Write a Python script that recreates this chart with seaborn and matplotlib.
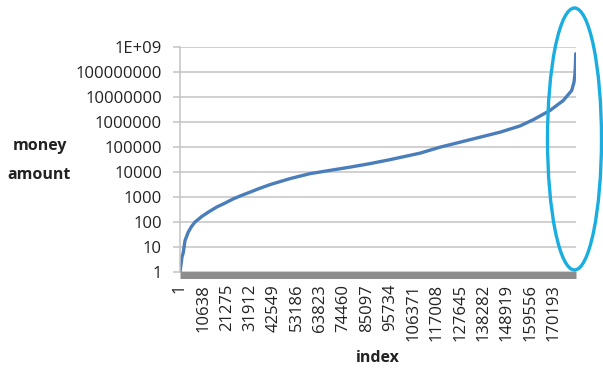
import matplotlib
matplotlib.use("Agg")
import matplotlib.pyplot as plt
from matplotlib.patches import Ellipse
from matplotlib.ticker import FixedLocator, FixedFormatter, NullLocator
from matplotlib.transforms import ScaledTranslation
import seaborn as sns
import pandas as pd

# Sorted money amounts sampled along the record index
index_values = [1, 456, 912, 1504, 2279, 3783, 5333, 6837, 9891, 12899, 16728,
                20511, 24294, 28123, 31906, 35689, 41022, 50138, 59254, 68370,
                77486, 86602, 95718, 109392, 118508, 127624, 136740, 145856,
                154972, 161034, 168646, 174708, 178537, 179585, 180041, 180269,
                180360]
money_values = [1, 2, 4, 6, 18, 40, 68, 100, 166, 250, 400, 575, 850, 1175, 1580,
                2140, 3160, 5500, 8700, 11750, 15850, 21900, 31600, 57500,
                100000, 158000, 251000, 398000, 708000, 1260000, 2950000,
                7400000, 18600000, 40000000, 87000000, 250000000, 550000000]

x_ticks = [1, 10638, 21275, 31912, 42549, 53186, 63823, 74460, 85097, 95734,
           106371, 117008, 127645, 138282, 148919, 159556, 170193]
y_ticks = [1, 10, 100, 1000, 10000, 100000, 1000000, 10000000, 100000000, 1000000000]
y_tick_labels = ["1", "10", "100", "1000", "10000", "100000", "1000000",
                 "10000000", "100000000", "1E+09"]
n_records = 180500

df = pd.DataFrame({"index": index_values, "money": money_values})

sns.set_style("white")
plt.rcParams["font.family"] = ["Open Sans", "DejaVu Sans"]

fig = plt.figure(figsize=(6.03, 3.72), dpi=100)
ax = fig.add_axes([180 / 603, 1 - 272 / 372, 396 / 603, (272 - 47.3) / 372])

sns.lineplot(data=df, x="index", y="money", ax=ax, color="#4a7ebb",
             linewidth=2.4, estimator=None)

ax.set_yscale("log")
ax.set_ylim(1, 1e9)
ax.set_xlim(1, n_records)

ax.yaxis.set_major_locator(FixedLocator(y_ticks))
ax.yaxis.set_major_formatter(FixedFormatter(y_tick_labels))
ax.yaxis.set_minor_locator(NullLocator())
ax.xaxis.set_major_locator(FixedLocator(x_ticks))
ax.xaxis.set_major_formatter(FixedFormatter([str(v) for v in x_ticks]))
ax.xaxis.set_minor_locator(NullLocator())

ax.grid(axis="y", color="#c3c3c3", linewidth=1.1)
ax.grid(axis="x", visible=False)
ax.set_axisbelow(True)

ax.tick_params(axis="y", which="major", length=5, width=1.1, color="#c3c3c3",
               labelsize=12, labelcolor="#222222", pad=8, left=True)
ax.tick_params(axis="x", length=0, labelsize=12, labelcolor="#222222", pad=6,
               labelrotation=90)

# category labels sit a little right of their tick positions
shift = ScaledTranslation(2.5 / 100, 0, fig.dpi_scale_trans)
for lbl in ax.get_xticklabels():
    lbl.set_transform(lbl.get_transform() + shift)

for side in ("top", "right"):
    ax.spines[side].set_visible(False)
ax.spines["left"].set_color("#c3c3c3")
ax.spines["left"].set_linewidth(1.1)
ax.spines["bottom"].set_color("#8c8c8c")
ax.spines["bottom"].set_linewidth(5.0)
ax.spines["bottom"].set_position(("outward", 2.5))
ax.spines["bottom"].set_capstyle("butt")

ax.set_xlabel("")
ax.set_ylabel("")

label_style = dict(ha="center", va="center", fontsize=11.5, fontweight="bold",
                   color="#222222")
fig.text(40 / 603, 1 - 146 / 372, "money", **label_style)
fig.text(39 / 603, 1 - 175 / 372, "amount", **label_style)
fig.text(378 / 603, 1 - 358 / 372, "index", **label_style)

ring = Ellipse((574.5 / 603, 1 - 139 / 372), 54 / 603, 262 / 372,
               transform=fig.transFigure, fill=False, edgecolor="#1aaee0",
               linewidth=2.4)
fig.add_artist(ring)

fig.savefig("out.png", dpi=100, facecolor="white")
